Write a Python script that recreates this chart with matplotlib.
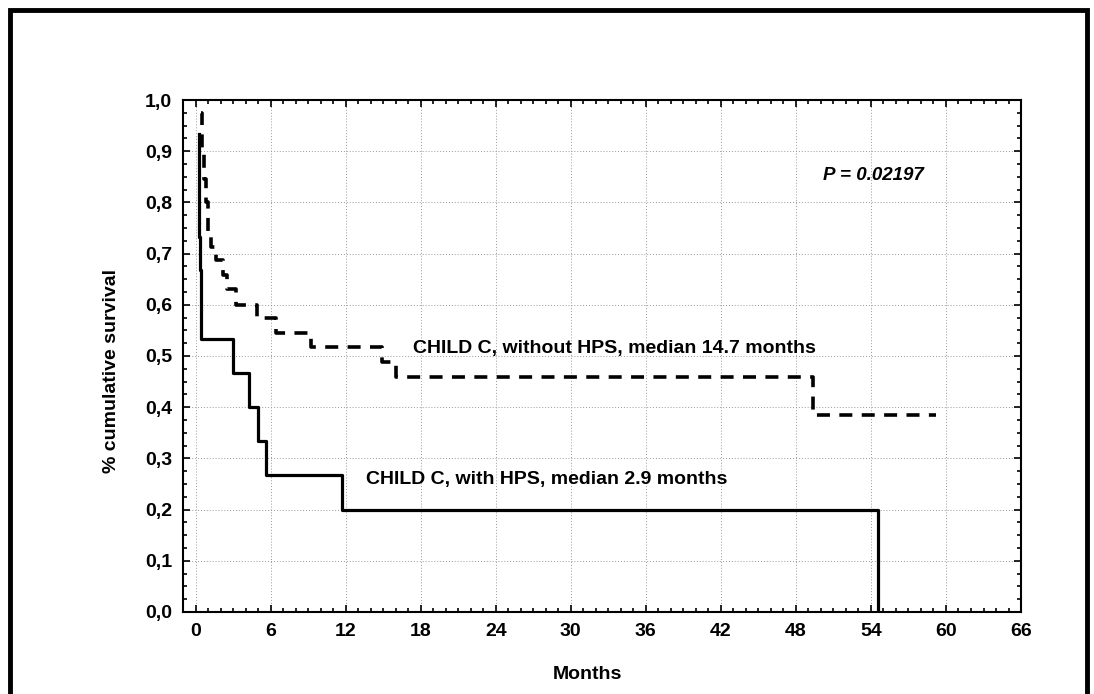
import matplotlib
matplotlib.use("Agg")
import matplotlib.pyplot as plt
from matplotlib.ticker import MultipleLocator, FixedLocator
from matplotlib.patches import Rectangle

plt.rcParams['font.family'] = ['Liberation Sans', 'DejaVu Sans']
plt.rcParams['font.weight'] = 'bold'

# survival curves (step, post)
hps_months = [0.25, 0.3, 0.35, 0.45, 3.0, 4.3, 5.0, 5.6, 11.7, 54.6]
hps_surv = [0.933, 0.733, 0.667, 0.533, 0.467, 0.4, 0.333, 0.267, 0.2, 0.0]

nohps_months = [0.4, 0.55, 0.7, 0.85, 1.0, 1.2, 1.6, 2.2, 2.5, 3.2, 4.9, 6.4, 9.2, 14.9, 16.0, 49.4, 59.2]
nohps_surv = [0.974, 0.897, 0.846, 0.8, 0.74, 0.713, 0.687, 0.658, 0.63, 0.6, 0.574, 0.545, 0.518, 0.488, 0.459, 0.385, 0.385]

x_ticks = [0, 6, 12, 18, 24, 30, 36, 42, 48, 54, 60, 66]
y_ticks = [0.0, 0.1, 0.2, 0.3, 0.4, 0.5, 0.6, 0.7, 0.8, 0.9, 1.0]
y_labels = ['0,0', '0,1', '0,2', '0,3', '0,4', '0,5', '0,6', '0,7', '0,8', '0,9', '1,0']

fig = plt.figure(figsize=(10.94, 6.94), dpi=100)
ax = fig.add_axes([0.1673, 0.1182, 0.766, 0.7377])

# page frame
fig.add_artist(Rectangle((0.009, -0.1), 0.985, 1.085, transform=fig.transFigure,
                         fill=False, edgecolor='black', linewidth=3.5, clip_on=False))

ax.plot(hps_months, hps_surv, drawstyle='steps-post', color='black', linewidth=2.3)
ax.plot(nohps_months, nohps_surv, drawstyle='steps-post', color='black', linewidth=2.6,
        dashes=(3.6, 2.6))

ax.set_xlim(-1, 66)
ax.set_ylim(0, 1.0)
ax.xaxis.set_major_locator(FixedLocator(x_ticks))
ax.xaxis.set_minor_locator(MultipleLocator(1))
ax.yaxis.set_major_locator(FixedLocator(y_ticks))
ax.yaxis.set_minor_locator(MultipleLocator(0.025))
ax.set_yticklabels(y_labels)

ax.tick_params(which='both', direction='in', top=True, right=True, labelsize=14, width=1.2)
ax.tick_params(which='major', length=5, pad=8)
ax.tick_params(which='minor', length=3)
for s in ax.spines.values():
    s.set_linewidth(1.5)

ax.grid(True, which='major', linestyle=(0, (1, 2)), color='#999999', linewidth=0.7)

ax.set_xlabel('Months', fontsize=14, fontweight='bold')
ax.xaxis.set_label_coords(0.482, -0.105)
ax.set_ylabel('% cumulative survival', fontsize=14, fontweight='bold')
ax.yaxis.set_label_coords(-0.075, 0.47)

ax.text(17.4, 0.515, 'CHILD C, without HPS, median 14.7 months', fontsize=14,
        fontweight='bold', va='center', ha='left')
ax.text(13.6, 0.258, 'CHILD C, with HPS, median 2.9 months', fontsize=14,
        fontweight='bold', va='center', ha='left')
ax.text(50.2, 0.853, 'P = 0.02197', fontsize=13.5, fontweight='bold', style='italic',
        va='center', ha='left')

fig.savefig('out.png', dpi=100)
